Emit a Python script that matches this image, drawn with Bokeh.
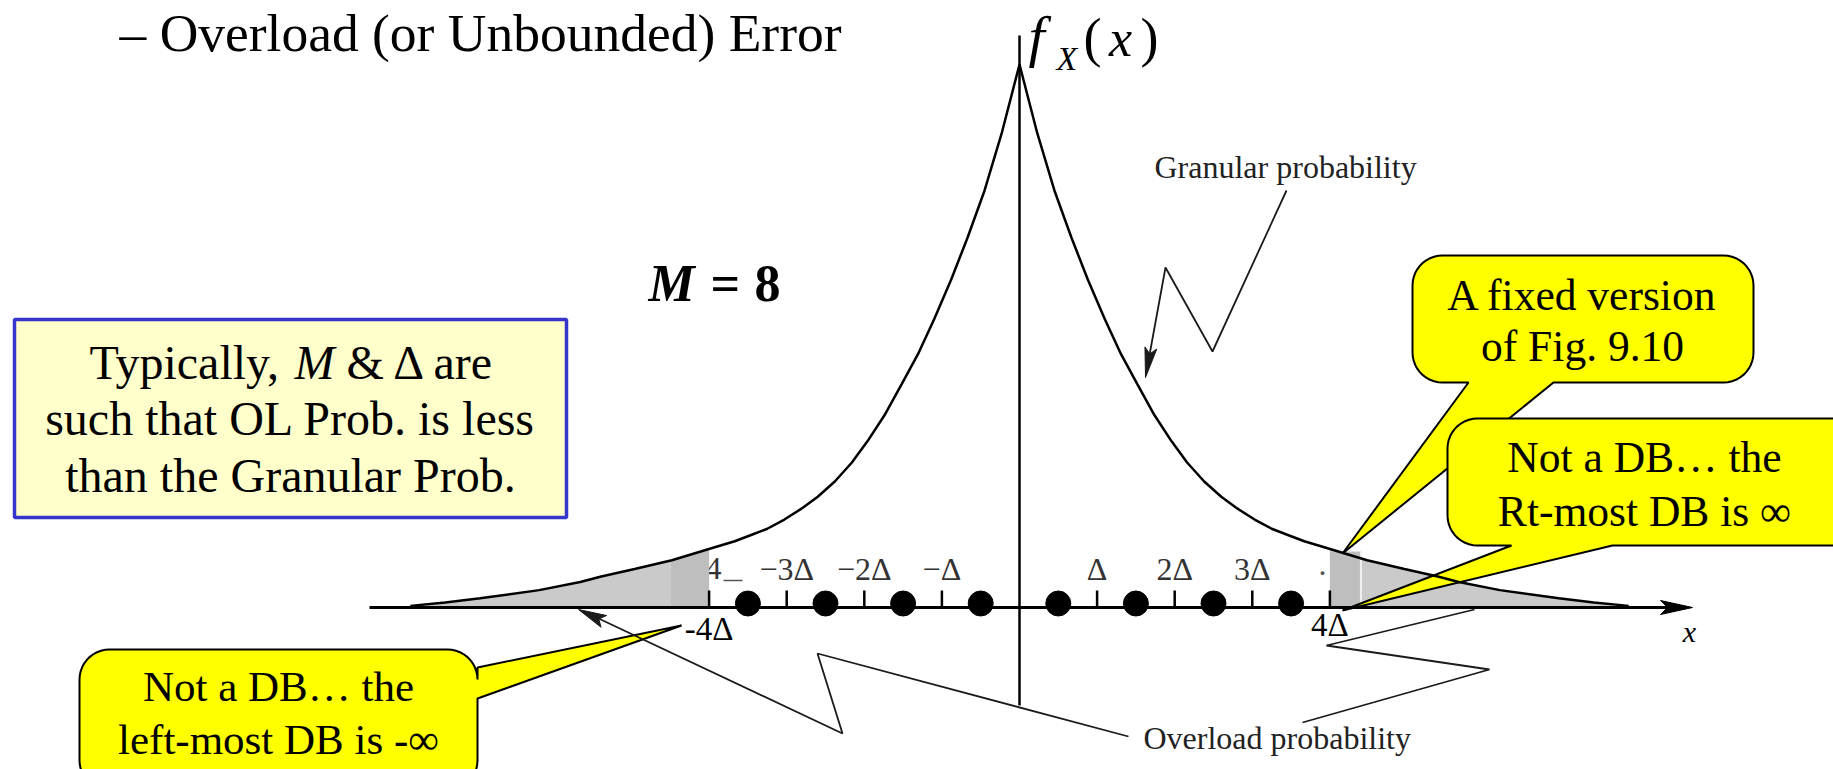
import numpy as np
from bokeh.plotting import figure
from bokeh.models import Range1d
from bokeh.core.properties import value
from bokeh.embed import file_html
from bokeh.resources import INLINE

# ---------------- data ----------------
# pdf f_X(x): distance from 0 in units of Delta, and height relative to the peak
curve_dx = [0.00, 0.23, 0.45, 0.67, 0.88, 1.10, 1.31, 1.52, 1.74, 1.96, 2.16, 2.38, 2.60,
            2.81, 3.03, 3.25, 3.45, 3.67, 3.97, 4.48, 4.96, 5.39, 5.66, 6.19, 6.95, 7.40, 7.85]
curve_fx = [1.000, 0.873, 0.768, 0.681, 0.604, 0.531, 0.466, 0.411, 0.354, 0.306, 0.267,
            0.232, 0.204, 0.182, 0.162, 0.145, 0.134, 0.122, 0.109, 0.087, 0.071, 0.057,
            0.047, 0.032, 0.017, 0.009, 0.003]
tick_pos = [-4, -3, -2, -1, 1, 2, 3, 4]
label_pos = [-3, -2, -1, 1, 2, 3]
tick_labels = ["−3Δ", "−2Δ", "−Δ", "Δ", "2Δ", "3Δ"]
recon_levels = [-3.5, -2.5, -1.5, -0.5, 0.5, 1.5, 2.5, 3.5]
overload_edges = [-4, 4]
edge_labels = ["-4Δ", "4Δ"]
dark_left = [-4.5, -4.0]
dark_right = [4.0, 4.4]

# ---------------- layout helpers (canvas pixels -> data) ----------------
OX, OY, DPX, HPX = 1019.0, 607.0, 77.6, 543.0
def X(px): return (px - OX) / DPX
def Y(py): return (OY - py) / HPX

W, H = 1833, 769
p = figure(width=W, height=H, x_range=Range1d(X(0), X(W)), y_range=Range1d(Y(H), Y(0)),
           output_backend="svg", toolbar_location=None, x_axis_type=None, y_axis_type=None,
           min_border=0)
p.outline_line_color = None
p.background_fill_color = "white"

FONT = value("Liberation Serif")
SHIFT = 0.37  # empirical baseline correction (fraction of font size)

def txt(px, py, s, size, style="normal", align="left", color="black"):
    p.text(x=[X(px)], y=[Y(py - SHIFT * size)], text=[s], text_font=FONT,
           text_font_size=value(f"{size}px"), text_font_style=value(style),
           text_align=value(align), text_baseline=value("alphabetic"), text_color=color)

def head(tip, frm, L, w):
    t = np.array(tip, float); f = np.array(frm, float)
    u = (t - f) / np.linalg.norm(t - f)
    n = np.array([-u[1], u[0]])
    b = t - L * u
    pts = [t, b + w * n, t - 0.8 * L * u, b - w * n]
    p.patch([X(q[0]) for q in pts], [Y(q[1]) for q in pts], fill_color="#1a1a1a",
            line_color="#1a1a1a", line_width=1)

def polyline(pts, color="#1a1a1a", lw=1.8):
    p.line([X(q[0]) for q in pts], [Y(q[1]) for q in pts], line_color=color, line_width=lw)

def callout(x0, y0, x1, y1, r, side, a, b, tip):
    pts = []
    def arc(cx, cy, t0, t1):
        for t in np.linspace(np.radians(t0), np.radians(t1), 12):
            pts.append((cx + r * np.cos(t), cy + r * np.sin(t)))
    arc(x1 - r, y0 + r, -90, 0)
    if side == "right":
        pts.extend([(x1, a), tip, (x1, b)])
    arc(x1 - r, y1 - r, 0, 90)
    if side == "bottom":
        pts.extend([(b, y1), tip, (a, y1)])
    arc(x0 + r, y1 - r, 90, 180)
    arc(x0 + r, y0 + r, 180, 270)
    p.patch([X(q[0]) for q in pts], [Y(q[1]) for q in pts], fill_color="#ffff00",
            line_color="black", line_width=2)

# ---------------- curve and shaded regions ----------------
cx = [-d for d in curve_dx[:0:-1]] + curve_dx
cy = curve_fx[:0:-1] + curve_fx
cx_a, cy_a = np.array(cx), np.array(cy)

m = cx_a <= dark_left[0]
xl = list(cx_a[m]) + [dark_left[0]]
yl = list(cy_a[m]) + [float(np.interp(dark_left[0], cx_a, cy_a))]
p.varea(x=xl, y1=0, y2=yl, fill_color="#cacaca")

m = cx_a >= overload_edges[1]
xr = [overload_edges[1]] + list(cx_a[m])
yr = [float(np.interp(overload_edges[1], cx_a, cy_a))] + list(cy_a[m])
p.varea(x=xr, y1=0, y2=yr, fill_color="#cacaca")

# remnants of the original tick labels under the patches
txt(705, 580, "4", 32, color="#333333")
polyline([(723, 580), (742, 580)], color="#555555", lw=1.5)
txt(1318, 576, ".", 32, color="#555555")

xd = np.linspace(dark_left[0], dark_left[1], 10)
p.varea(x=list(xd), y1=0, y2=list(np.interp(xd, cx_a, cy_a)), fill_color="#bebebe")
p.quad(left=[dark_right[0]], right=[dark_right[1]], bottom=[0], top=[Y(551)],
       fill_color="#bebebe", line_color=None)
p.segment(x0=[dark_right[1]], y0=[0], x1=[dark_right[1]], y1=[Y(551)], line_color="#f0f0f0",
          line_width=2)

# ---------------- axes ----------------
p.segment(x0=[X(369)], y0=[0], x1=[X(1668)], y1=[0], line_color="black", line_width=3)
ah = [(1692, 607), (1660, 600), (1667, 607), (1660, 614)]
p.patch([X(q[0]) for q in ah], [Y(q[1]) for q in ah], fill_color="black", line_color="black")
p.segment(x0=[0], y0=[Y(705)], x1=[0], y1=[Y(35)], line_color="black", line_width=2.5)

p.segment(x0=tick_pos, y0=[0] * len(tick_pos), x1=tick_pos, y1=[Y(590)] * len(tick_pos),
          line_color="black", line_width=2.5)
p.text(x=label_pos, y=[Y(580 - SHIFT * 32)] * len(label_pos), text=tick_labels, text_font=FONT,
       text_font_size=value("32px"), text_align=value("center"),
       text_baseline=value("alphabetic"), text_color="#333333")
p.scatter(x=recon_levels, y=[Y(603)] * len(recon_levels), size=25, fill_color="black",
          line_color="black")

p.text(x=overload_edges, y=[Y(641 - SHIFT * 33), Y(637 - SHIFT * 33)], text=edge_labels,
       text_font=FONT, text_font_size=value("33px"), text_align=value("center"),
       text_baseline=value("alphabetic"), text_color="black")

# ---------------- callouts ----------------
callout(1412, 255, 1753, 382, 30, "bottom", 1468, 1553, (1342, 553))
callout(1447, 418, 1875, 545, 30, "bottom", 1511, 1612, (1342, 610))
callout(79, 649, 477, 790, 30, "right", 667, 698, (681, 625))

p.line(cx, cy, line_color="black", line_width=2.5)

# ---------------- texts ----------------
txt(119, 52, "– Overload (or Unbounded) Error", 53.5)
txt(1028, 57, "f", 58, "italic")
txt(1056, 71, "X", 34, "italic")
txt(1083, 57, "(", 54)
txt(1120, 57, "x", 52, "italic", "center")
txt(1158, 57, ")", 54, align="right")
txt(1689, 642, "x", 30, "italic", "center")

txt(648, 302, "M", 52, "bold italic")
txt(710, 302, "=", 52, "bold")
txt(754, 302, "8", 52, "bold")

# blue note box
p.quad(left=[X(14)], right=[X(566)], top=[Y(319)], bottom=[Y(517)], fill_color="#ffffcc",
       line_color="#3535cc", line_width=3.5)
txt(89, 380, "Typically,", 48)
txt(294, 380, "M", 48, "italic")
txt(346, 380, "& Δ are", 48)
txt(290, 436, "such that OL Prob. is less", 48, align="center")
txt(290, 493, "than the Granular Prob.", 48, align="center")

txt(1582, 311, "A fixed version", 43.5, align="center")
txt(1582, 362, "of Fig. 9.10", 43.5, align="center")
txt(1644, 473, "Not a DB… the", 43.5, align="center")
txt(1644, 527, "Rt-most DB is ∞", 43.5, align="center")
txt(278, 702, "Not a DB… the", 43, align="center")
txt(278, 755, "left-most DB is -∞", 43, align="center")

txt(1154, 178, "Granular probability", 32, color="#222222")
txt(1143, 749, "Overload probability", 32, color="#222222")

# ---------------- pointer lines ----------------
g = [(1286, 190), (1212, 351), (1165, 267), (1145, 377)]
polyline(g[:-1] + [(1148, 360)])
head(g[-1], g[-2], 30, 6)

ol = [(578, 609), (842, 733), (817, 653), (1128, 736)]
polyline([(596, 617)] + ol[1:])
head(ol[0], ol[1], 28, 6.5)

orr = [(1302, 722), (1489, 669), (1326, 645), (1474, 609)]
polyline(orr)

open("out.html", "w").write(file_html(p, INLINE))
